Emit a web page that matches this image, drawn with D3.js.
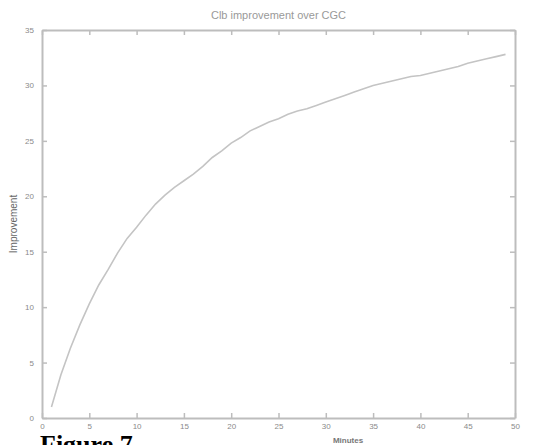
<!DOCTYPE html>
<html>
<head>
<meta charset="utf-8">
<script src="https://cdn.jsdelivr.net/npm/d3@7"></script>
<style>
  html, body { margin: 0; padding: 0; background: #fff; overflow: hidden; }
  svg { display: block; }
</style>
</head>
<body>
<div id="chart"></div>
<script>
// Improvement (%) of Clb over CGC as a function of elapsed minutes
const minutes = [1,2,3,4,5,6,7,8,9,10,11,12,13,14,15,16,17,18,19,20,21,22,23,24,25,
                 26,27,28,29,30,31,32,33,34,35,36,37,38,39,40,41,42,43,44,45,46,47,48,49];
const improvement = [1.0,3.9,6.3,8.4,10.3,12.0,13.4,14.9,16.2,17.2,18.3,19.3,20.1,20.8,21.4,
                     22.0,22.7,23.5,24.1,24.8,25.3,25.9,26.3,26.7,27.0,27.4,27.7,27.9,28.2,28.5,
                     28.8,29.1,29.4,29.7,30.0,30.2,30.4,30.6,30.8,30.9,31.1,31.3,31.5,31.7,32.0,
                     32.2,32.4,32.6,32.8];
const xTicks = [0,5,10,15,20,25,30,35,40,45,50];
const yTicks = [0,5,10,15,20,25,30,35];

const W = 547, H = 445;
const m = { left: 42, right: 32, top: 30, bottom: 27 };

const svg = d3.select("#chart").append("svg")
  .attr("width", W).attr("height", H);

const x = d3.scaleLinear().domain([0, 50]).range([m.left, W - m.right]);
const y = d3.scaleLinear().domain([0, 35]).range([H - m.bottom, m.top]);

const axisColor = "#bdbdbd";
const textColor = "#8a8a8a";
const tickFont = "Liberation Sans, Arial, sans-serif";

function styleAxis(g) {
  g.select(".domain").attr("stroke", axisColor).attr("stroke-width", 2);
  g.selectAll(".tick line").attr("stroke", axisColor).attr("stroke-width", 1.5);
  g.selectAll(".tick text").attr("fill", textColor)
    .attr("font-family", tickFont).attr("font-size", 8);
}

// bottom axis, ticks pointing inward
svg.append("g")
  .attr("transform", `translate(0,${H - m.bottom})`)
  .call(d3.axisBottom(x).tickValues(xTicks).tickSizeInner(-5).tickSizeOuter(0).tickPadding(5))
  .call(styleAxis);

// top axis, ticks only
svg.append("g")
  .attr("transform", `translate(0,${m.top})`)
  .call(d3.axisTop(x).tickValues(xTicks).tickSizeInner(-5).tickSizeOuter(0).tickFormat(""))
  .call(styleAxis);

// left axis
svg.append("g")
  .attr("transform", `translate(${m.left},0)`)
  .call(d3.axisLeft(y).tickValues(yTicks).tickSizeInner(-5).tickSizeOuter(0).tickPadding(8))
  .call(styleAxis);

// right axis, ticks only
svg.append("g")
  .attr("transform", `translate(${W - m.right},0)`)
  .call(d3.axisRight(y).tickValues(yTicks).tickSizeInner(-5).tickSizeOuter(0).tickFormat(""))
  .call(styleAxis);

// data curve
const line = d3.line()
  .x((d, i) => x(minutes[i]))
  .y(d => y(d));

svg.append("path")
  .datum(improvement)
  .attr("fill", "none")
  .attr("stroke", "#c4c4c4")
  .attr("stroke-width", 1.6)
  .attr("d", line);

// title
svg.append("text")
  .attr("x", (m.left + W - m.right) / 2)
  .attr("y", 19)
  .attr("text-anchor", "middle")
  .attr("fill", "#999")
  .attr("font-family", tickFont)
  .attr("font-size", 11)
  .text("Clb improvement over CGC");

// axis labels
svg.append("text")
  .attr("x", 348)
  .attr("y", 443)
  .attr("text-anchor", "middle")
  .attr("fill", "#777")
  .attr("font-family", tickFont)
  .attr("font-weight", "bold")
  .attr("font-size", 8)
  .text("Minutes");

svg.append("text")
  .attr("transform", `translate(17,${(m.top + H - m.bottom) / 2}) rotate(-90)`)
  .attr("text-anchor", "middle")
  .attr("fill", "#666")
  .attr("font-family", tickFont)
  .attr("font-size", 10)
  .text("Improvement");

// figure caption
svg.append("text")
  .attr("x", 40)
  .attr("y", 453)
  .attr("fill", "#000")
  .attr("font-family", "Liberation Serif, Times New Roman, serif")
  .attr("font-weight", "bold")
  .attr("font-size", 26)
  .text("Figure 7");
</script>
</body>
</html>
